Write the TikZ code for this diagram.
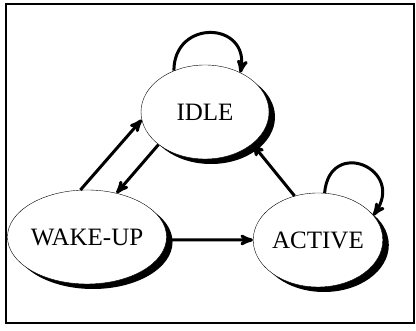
\documentclass[tikz,border=0pt]{standalone}
\usepackage{fontspec}
\setmainfont{Liberation Serif}
\usepackage{tikz}
\usetikzlibrary{positioning}
\usetikzlibrary{arrows}
\usetikzlibrary{shapes.geometric,shadows}

\begin{document}
\begin{tikzpicture}[x=1pt,y=1pt,->,>=stealth',state node/.style={ellipse,draw,thin,fill=white,inner sep=0pt,minimum width=128pt,minimum height=94pt,font=\fontsize{25}{29}\selectfont,drop shadow={shadow xshift=6pt,shadow yshift=-5pt,fill=black,opacity=1}}]

			\useasboundingbox (0,0) rectangle (416,331);
			\draw[-,line width=2.4pt] (6,8) rectangle (414,327);

			\node[state node] (idle) at (205,219) {IDLE};
			\node[state node] (wakeup) at (87,94) {WAKE-UP};
			\node[state node] (active) at (318,91) {ACTIVE};

			\path[line width=3pt]
			(wakeup.98)	edge (idle.187)
			(idle.215)	edge (wakeup.56)
			(wakeup.-2)	edge (active.180)
			(active.118)	edge (idle.326)
			(idle.127)	edge[out=90,in=80,looseness=2] (idle.48)
			(active.82)	edge[out=85,in=55,looseness=2.7] (active.24);
		\end{tikzpicture}
\end{document}
